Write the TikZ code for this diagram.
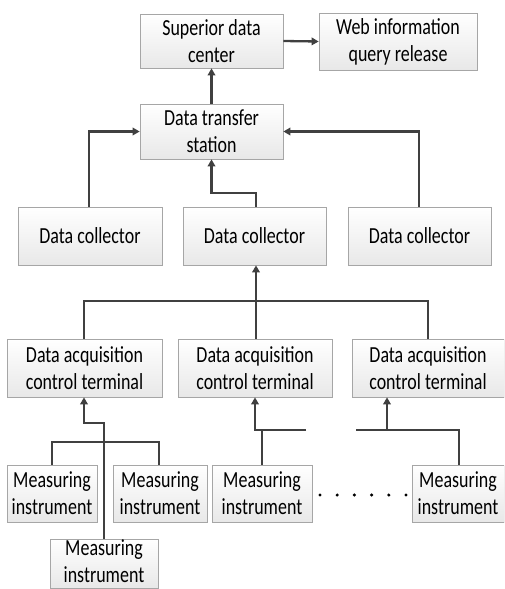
\documentclass[tikz,border=0pt]{standalone}
\usepackage{fontspec}
\setmainfont{Carlito}[FakeStretch=0.78]
\usetikzlibrary{arrows.meta,shadows}
\begin{document}
\begin{tikzpicture}[x=1pt,y=-1pt,
  box/.style={draw=black!35,line width=0.7pt,top color=white,bottom color=black!9,
    drop shadow={shadow xshift=0.8pt,shadow yshift=-0.8pt,opacity=0.25},
    align=center,inner sep=0pt,font=\fontsize{23}{27}\selectfont},
  conn/.style={draw=black!75,line width=2.3pt},
  arr/.style={conn,-{Triangle[length=7pt,width=7.5pt]}},
  dotc/.style={fill=black,circle,inner sep=0pt,minimum size=3.4pt}]
\useasboundingbox (0,0) rectangle (504,589);
\clip (0,0) rectangle (504,589);
\fill[white] (0,0) rectangle (504,589);
% boxes
\node[box,minimum width=143pt,minimum height=54pt] (sup) at (211.5,41) {Superior data\\center};
\node[box,minimum width=158pt,minimum height=57pt] (web) at (398,41.5) {Web information\\query release};
\node[box,minimum width=143pt,minimum height=55pt] (tra) at (211.5,131.5) {Data transfer\\station};
\node[box,minimum width=144pt,minimum height=58pt] (dc1) at (90,236) {Data collector};
\node[box,minimum width=143pt,minimum height=58pt] (dc2) at (254.5,236) {Data collector};
\node[box,minimum width=143pt,minimum height=58pt] (dc3) at (419.5,236) {Data collector};
\node[box,minimum width=155pt,minimum height=58pt] (ac1) at (84.5,368) {Data acquisition\\control terminal};
\node[box,minimum width=154pt,minimum height=58pt] (ac2) at (255,368) {Data acquisition\\control terminal};
\node[box,minimum width=152pt,minimum height=58pt] (ac3) at (428,368) {Data acquisition\\control terminal};
\node[box,minimum width=90pt,minimum height=57pt] (mi1) at (52,493.5) {Measuring\\instrument};
\node[box,minimum width=94pt,minimum height=57pt] (mi2) at (160,493.5) {Measuring\\instrument};
\node[box,minimum width=108pt,minimum height=49pt,text height=40pt,text depth=3pt] (mi3) at (104,563.5) {Measuring\\instrument};
\node[box,minimum width=100pt,minimum height=57pt] (mi4) at (262,493.5) {Measuring\\instrument};
\node[box,minimum width=92pt,minimum height=57pt] (mi5) at (458,493.5) {Measuring\\instrument};
% dots
\foreach \i [count=\k] in {320,337.2,354.4,371.6,388.8,406}
  \node[dotc] (d\k) at (\i,495) {};
% top connectors
\draw[arr] (sup.east) -- (web.west);
\draw[arr] (tra.north) -- (sup.south);
\draw[arr] (dc1.north -| 89,0) |- (tra.west);
\draw[arr] (dc3.north -| 419,0) |- (tra.east);
\coordinate (m1) at (256,193);
\draw[arr] (dc2.north -| m1) -- (m1) -| (tra.south);
% collector bus
\coordinate (b1) at (84,301);
\coordinate (b3) at (428,301);
\draw[conn] (ac1.north -| b1) -- (b1) -- (b3) -- (ac3.north -| b3);
\draw[arr] (ac2.north -| 256,0) -- (dc2.south -| 256,0);
% terminal 1
\coordinate (t1) at (104,423);
\coordinate (t1b) at (84,423);
\draw[arr] (mi3.north -| t1) -- (t1) -- (t1b) -- (ac1.south -| t1b);
\coordinate (u1) at (52,442);
\coordinate (u2) at (159,442);
\draw[conn] (mi1.north -| u1) -- (u1) -- (u2) -- (mi2.north -| u2);
% terminal 2
\coordinate (t2e) at (306,430);
\coordinate (t2) at (255,430);
\draw[arr] (t2e) -- (t2) -- (ac2.south -| t2);
\coordinate (t2m) at (262,430);
\draw[conn] (mi4.north -| t2m) -- (t2m);
% terminal 3
\coordinate (t3s) at (356,430);
\coordinate (t3e) at (459,430);
\draw[conn] (t3s) -- (t3e) -- (mi5.north -| t3e);
\coordinate (t3) at (387,430);
\draw[arr] (t3) -- (ac3.south -| t3);
\end{tikzpicture}
\end{document}
